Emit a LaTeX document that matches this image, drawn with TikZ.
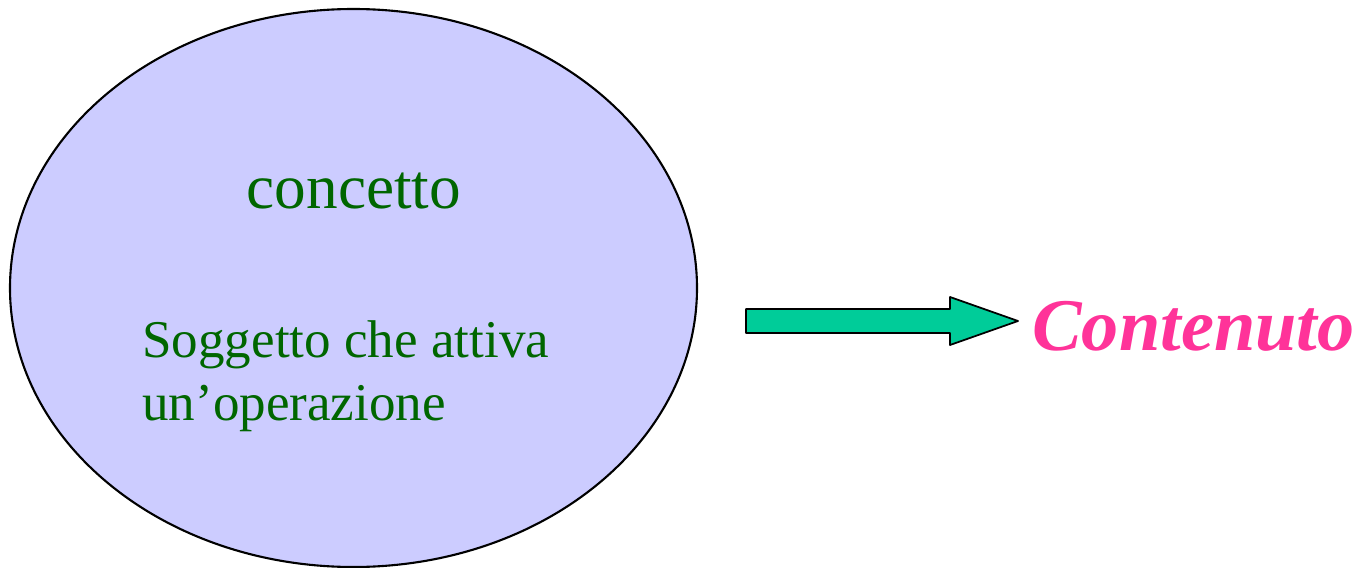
\documentclass[tikz,border=0pt]{standalone}
\usepackage{fontspec}
\setmainfont{Liberation Serif}
\usepackage{tikz}
\definecolor{lavender}{rgb}{0.8,0.8,1}
\definecolor{darkgreen}{rgb}{0,0.4,0}
\definecolor{seagreen}{rgb}{0,0.8,0.6}
\definecolor{hotpink}{rgb}{1,0.2,0.6}
\tikzset{
  greentext/.style={color=darkgreen,inner sep=0pt},
}
\begin{document}
\begin{tikzpicture}[line cap=round,line join=round,x=0.02cm,y=-0.02cm]
\useasboundingbox (0,0) rectangle (1356,568);
\draw[line width=1.2pt,fill=lavender] (353.5,288) ellipse [x radius=343.5, y radius=279];
\node[greentext,anchor=base,font=\fontsize{36}{43}\selectfont] (concetto) at (354,208) {concetto};
\node[greentext,anchor=base west,font=\fontsize{30.2}{36}\selectfont] (soggetto) at (142,357) {Soggetto che attiva};
\node[greentext,anchor=base west,font=\fontsize{30.2}{36}\selectfont] (operazione) at (142,420) {un’operazione};
% freccia
\coordinate (tail) at (746,321);
\coordinate (tip) at (1018,321);
\draw[line width=1pt,fill=seagreen] (tail) ++(0,-12) -- (950,309) -- (950,297) -- (tip) -- (950,345) -- (950,333) -- (746,333) -- cycle;
\node[anchor=base west,inner sep=0pt,color=hotpink,font=\fontsize{42.3}{50}\selectfont\bfseries\itshape] (contenuto) at (1032,350) {Contenuto};
\end{tikzpicture}
\end{document}
